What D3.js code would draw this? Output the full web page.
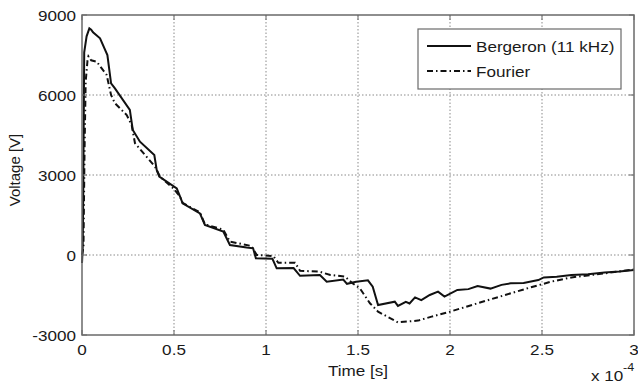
<!DOCTYPE html>
<html>
<head>
<meta charset="utf-8">
<script src="https://cdn.jsdelivr.net/npm/d3@7.9.0/dist/d3.min.js"></script>
<style>
  html, body { margin: 0; padding: 0; background: #fff; }
  svg text { font-family: "Liberation Sans", Arial, Helvetica, sans-serif; fill: #1a1a1a; }
</style>
</head>
<body>
<svg id="chart" width="638" height="385"></svg>
<script>
/* ---------- Data (time in units of 1e-4 s, voltage in V) ---------- */
const bergeronTime = [0, 0.004, 0.007, 0.012, 0.025, 0.04, 0.05, 0.06, 0.098, 0.138, 0.158, 0.179, 0.26, 0.276, 0.315, 0.393, 0.406, 0.42, 0.515, 0.533, 0.547, 0.641, 0.668, 0.768, 0.804, 0.895, 0.93, 0.945, 1.035, 1.058, 1.15, 1.185, 1.293, 1.33, 1.42, 1.44, 1.49, 1.554, 1.58, 1.609, 1.7, 1.717, 1.76, 1.78, 1.81, 1.844, 1.89, 1.935, 1.97, 2.04, 2.1, 2.15, 2.22, 2.28, 2.33, 2.4, 2.48, 2.51, 2.58, 2.66, 2.75, 2.84, 2.92, 3.0];
const bergeronVolt = [-300, 300, 2500, 7600, 8200, 8500, 8450, 8350, 8126, 7500, 6440, 6250, 5440, 4690, 4250, 3750, 3190, 2940, 2500, 2190, 1940, 1560, 1125, 875, 375, 280, 250, -125, -140, -500, -490, -780, -750, -1000, -920, -1080, -1000, -950, -1190, -1875, -1750, -1910, -1760, -1820, -1590, -1690, -1500, -1375, -1560, -1310, -1280, -1160, -1260, -1120, -1060, -1050, -940, -840, -820, -750, -720, -660, -620, -560];

const fourierTime = [0, 0.008, 0.014, 0.02, 0.03, 0.035, 0.05, 0.08, 0.134, 0.158, 0.179, 0.243, 0.27, 0.288, 0.397, 0.424, 0.496, 0.533, 0.547, 0.641, 0.668, 0.768, 0.804, 0.92, 0.95, 1.04, 1.067, 1.158, 1.185, 1.29, 1.35, 1.43, 1.47, 1.51, 1.565, 1.609, 1.717, 1.826, 1.9, 2.0, 2.15, 2.3, 2.44, 2.55, 2.66, 2.84, 3.0];
const fourierVolt = [0, 300, 4000, 6500, 7300, 7450, 7300, 7250, 6750, 6000, 5690, 5250, 4875, 4190, 3310, 2940, 2500, 2190, 1950, 1600, 1150, 950, 500, 340, 0, -40, -290, -290, -590, -625, -750, -810, -1060, -1250, -1810, -2125, -2525, -2460, -2310, -2125, -1810, -1500, -1210, -1000, -840, -690, -540];

const xTicks = [0, 0.5, 1, 1.5, 2, 2.5, 3];
const yTicks = [-3000, 0, 3000, 6000, 9000];
const legendLabels = ["Bergeron (11 kHz)", "Fourier"];

/* ---------- Layout ---------- */
const svg = d3.select('#chart');
const plotL = 82, plotR = 634, plotT = 15, plotB = 335;
const boxColor = '#6a6a6a';
const gridColor = '#8a8a8a';
const stretch = 1.14;   // the source figure is slightly wider than tall

const x = d3.scaleLinear().domain([0, 3]).range([plotL, plotR]);
const y = d3.scaleLinear().domain([-3000, 9000]).range([plotB, plotT]);

// helper for horizontally stretched text
function label(txt, px, py, anchor, size = 15) {
  return svg.append('text')
    .attr('transform', `translate(${px},${py}) scale(${stretch},1)`)
    .attr('text-anchor', anchor)
    .attr('font-size', size)
    .text(txt);
}

/* ---------- Grid ---------- */
const grid = svg.append('g')
  .attr('stroke', gridColor)
  .attr('stroke-width', 1)
  .attr('stroke-dasharray', '1.5,2');

grid.selectAll('line.v')
  .data(xTicks.filter(d => d > 0 && d < 3))
  .enter().append('line')
  .attr('x1', d => x(d)).attr('x2', d => x(d))
  .attr('y1', plotT).attr('y2', plotB);

grid.selectAll('line.h')
  .data(yTicks.filter(d => d > -3000 && d < 9000))
  .enter().append('line')
  .attr('x1', plotL).attr('x2', plotR)
  .attr('y1', d => y(d)).attr('y2', d => y(d));

/* ---------- Curves ---------- */
const line = d3.line().x(d => x(d[0])).y(d => y(d[1]));

svg.append('path')
  .datum(fourierTime.map((t, i) => [t, fourierVolt[i]]))
  .attr('d', line)
  .attr('fill', 'none')
  .attr('stroke', '#111')
  .attr('stroke-width', 2)
  .attr('stroke-dasharray', '6,3,1.5,3');

svg.append('path')
  .datum(bergeronTime.map((t, i) => [t, bergeronVolt[i]]))
  .attr('d', line)
  .attr('fill', 'none')
  .attr('stroke', '#111')
  .attr('stroke-width', 2);

/* ---------- Axes box + ticks ---------- */
svg.append('rect')
  .attr('x', plotL).attr('y', plotT)
  .attr('width', plotR - plotL).attr('height', plotB - plotT)
  .attr('fill', 'none')
  .attr('stroke', boxColor)
  .attr('stroke-width', 1.5);

const ticks = svg.append('g').attr('stroke', boxColor).attr('stroke-width', 1);
xTicks.forEach(d => {
  ticks.append('line').attr('x1', x(d)).attr('x2', x(d)).attr('y1', plotB).attr('y2', plotB - 5);
  ticks.append('line').attr('x1', x(d)).attr('x2', x(d)).attr('y1', plotT).attr('y2', plotT + 5);
});
yTicks.forEach(d => {
  ticks.append('line').attr('x1', plotL).attr('x2', plotL + 5).attr('y1', y(d)).attr('y2', y(d));
  ticks.append('line').attr('x1', plotR).attr('x2', plotR - 5).attr('y1', y(d)).attr('y2', y(d));
});

/* ---------- Tick labels ---------- */
xTicks.forEach(d => label(String(d), x(d), 355, 'middle'));
yTicks.forEach(d => label(String(d), 76, y(d) + 5.5, 'end'));

/* ---------- Axis titles ---------- */
label('Time [s]', (plotL + plotR) / 2, 376, 'middle');
svg.append('text')
  .attr('transform', `translate(20,170) rotate(-90)`)
  .attr('text-anchor', 'middle')
  .attr('font-size', 15)
  .text('Voltage [V]');

label('x 10', 591, 381, 'start');
label('-4', 623, 371, 'start', 11);

/* ---------- Legend ---------- */
const lg = svg.append('g');
lg.append('rect')
  .attr('x', 418).attr('y', 29)
  .attr('width', 203).attr('height', 60)
  .attr('fill', '#fff')
  .attr('stroke', boxColor)
  .attr('stroke-width', 1.2);

const legendDash = [null, '6,3,1.5,3'];
legendLabels.forEach((name, i) => {
  const ly = 46 + i * 25;
  lg.append('line')
    .attr('x1', 427).attr('x2', 471)
    .attr('y1', ly).attr('y2', ly)
    .attr('stroke', '#111')
    .attr('stroke-width', 2)
    .attr('stroke-dasharray', legendDash[i]);
  label(name, 476, ly + 6, 'start');
});
</script>
</body>
</html>
